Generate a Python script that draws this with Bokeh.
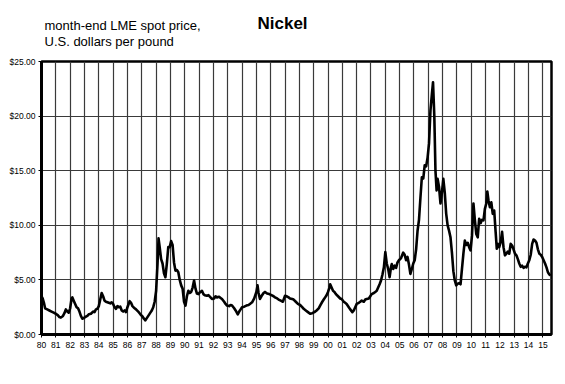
from bokeh.plotting import figure
from bokeh.layouts import column
from bokeh.models import FixedTicker, PrintfTickFormatter, Range1d
from bokeh.core.properties import value
from bokeh.embed import file_html
from bokeh.resources import INLINE

# decimal year of each reading and month-end LME nickel spot price (US$/lb)
t = [1980.00,1980.08,1980.17,1980.25,1980.4,1980.55,1980.7,1980.85,1981.0,1981.15,1981.25,1981.35,1981.5,1981.6,1981.7,1981.8,1981.9,
     1982.0,1982.1,1982.15,1982.25,1982.35,1982.45,1982.55,1982.65,1982.75,1982.85,1982.95,1983.05,1983.2,1983.3,1983.45,1983.6,1983.7,1983.8,1983.9,
     1984.0,1984.1,1984.2,1984.3,1984.4,1984.5,1984.6,1984.7,1984.8,1984.9,1985.0,1985.1,1985.2,1985.3,1985.4,1985.5,1985.6,1985.7,1985.8,1985.9,
     1986.0,1986.15,1986.25,1986.35,1986.5,1986.6,1986.75,1986.9,1987.05,1987.15,1987.25,1987.35,1987.5,1987.6,1987.7,1987.8,1987.9,
     1988.0,1988.1,1988.17,1988.25,1988.35,1988.45,1988.55,1988.65,1988.75,1988.85,1988.95,1989.05,1989.15,1989.25,1989.35,1989.45,1989.55,1989.65,1989.75,1989.85,1989.95,
     1990.05,1990.15,1990.25,1990.35,1990.45,1990.55,1990.65,1990.75,1990.85,1990.95,1991.05,1991.2,1991.3,1991.4,1991.55,1991.65,1991.8,1991.9,
     1992.05,1992.15,1992.25,1992.4,1992.5,1992.6,1992.75,1992.85,1992.95,1993.1,1993.2,1993.3,1993.45,1993.55,1993.7,1993.8,1993.9,
     1994.0,1994.15,1994.3,1994.45,1994.55,1994.7,1994.85,1995.0,1995.08,1995.15,1995.25,1995.35,1995.5,1995.6,1995.75,1995.9,
     1996.05,1996.2,1996.3,1996.45,1996.55,1996.7,1996.85,1997.0,1997.1,1997.25,1997.35,1997.5,1997.6,1997.75,1997.9,
     1998.05,1998.2,1998.3,1998.45,1998.6,1998.75,1998.9,1999.05,1999.2,1999.35,1999.45,1999.6,1999.7,1999.8,1999.9,
     2000.0,2000.1,2000.15,2000.25,2000.35,2000.45,2000.55,2000.7,2000.85,2000.95,2001.1,2001.2,2001.3,2001.45,2001.55,2001.7,2001.8,2001.9,
     2002.0,2002.15,2002.25,2002.35,2002.5,2002.6,2002.7,2002.85,2002.95,2003.05,2003.2,2003.3,2003.4,2003.5,2003.6,2003.7,2003.8,2003.9,
     2004.0,2004.1,2004.2,2004.3,2004.4,2004.45,2004.55,2004.65,2004.75,2004.85,2004.95,2005.1,2005.25,2005.35,2005.45,2005.55,2005.65,2005.75,2005.85,2005.95,
     2006.05,2006.15,2006.25,2006.35,2006.45,2006.55,2006.65,2006.75,2006.85,2006.95,2007.05,2007.15,2007.25,2007.33,2007.42,2007.5,2007.58,2007.65,2007.75,2007.85,2007.95,
     2008.05,2008.15,2008.25,2008.35,2008.45,2008.55,2008.65,2008.75,2008.85,2008.95,2009.05,2009.15,2009.25,2009.35,2009.45,2009.55,2009.65,2009.75,2009.85,2009.95,
     2010.05,2010.15,2010.25,2010.35,2010.45,2010.55,2010.65,2010.75,2010.85,2010.95,2011.05,2011.12,2011.2,2011.3,2011.4,2011.5,2011.6,2011.7,2011.78,2011.85,2011.95,
     2012.05,2012.15,2012.25,2012.35,2012.45,2012.55,2012.65,2012.75,2012.85,2012.95,2013.05,2013.15,2013.25,2013.35,2013.45,2013.55,2013.65,2013.75,2013.85,2013.95,
     2014.05,2014.15,2014.25,2014.35,2014.45,2014.55,2014.65,2014.75,2014.85,2014.95,2015.05,2015.15,2015.25,2015.35,2015.45,2015.55]
price = [3.5,3.3,2.9,2.4,2.3,2.2,2.1,2.0,1.9,1.75,1.6,1.55,1.7,1.95,2.3,2.1,2.0,
         2.4,3.3,3.4,3.1,2.8,2.5,2.4,2.1,1.7,1.45,1.5,1.6,1.7,1.85,1.9,2.1,2.05,2.3,2.35,
         2.6,3.2,3.8,3.5,3.1,3.0,2.95,2.9,2.85,2.95,2.8,2.5,2.35,2.6,2.5,2.55,2.2,2.1,2.2,2.05,
         2.5,3.05,2.9,2.6,2.4,2.3,2.1,1.85,1.65,1.45,1.3,1.5,1.8,2.0,2.2,2.5,3.0,
         4.0,6.5,8.8,8.0,6.9,6.5,5.6,5.25,6.5,8.0,8.0,8.55,8.2,6.6,5.85,5.9,5.7,5.0,4.5,4.2,3.0,
         2.65,3.5,4.0,3.8,3.9,4.3,4.95,4.2,3.75,3.7,3.85,4.0,3.7,3.6,3.55,3.6,3.4,3.25,
         3.3,3.5,3.4,3.45,3.35,3.25,3.0,2.8,2.65,2.6,2.7,2.65,2.4,2.2,1.85,2.1,2.3,
         2.5,2.55,2.65,2.7,2.8,2.95,3.3,3.9,4.5,3.8,3.25,3.5,3.8,3.9,3.75,3.7,
         3.6,3.5,3.4,3.3,3.2,3.1,3.0,3.55,3.5,3.4,3.3,3.25,3.2,3.0,2.8,
         2.7,2.5,2.35,2.2,2.05,1.9,1.95,2.05,2.2,2.4,2.65,3.0,3.2,3.4,3.6,
         3.9,4.3,4.6,4.3,4.0,3.9,3.7,3.5,3.3,3.25,3.0,2.9,2.8,2.5,2.3,2.05,2.2,2.5,
         2.8,2.9,3.0,3.1,3.0,3.2,3.25,3.3,3.5,3.7,3.8,3.9,4.0,4.3,4.6,4.95,5.5,6.15,
         7.55,6.5,6.0,5.25,6.2,6.45,6.0,6.3,6.1,6.6,6.8,7.0,7.5,7.3,6.8,7.1,6.4,5.55,6.0,6.5,
         6.8,7.8,9.5,10.5,12.5,14.4,14.3,15.5,15.4,16.2,17.5,20.5,22.0,23.1,20.0,15.0,13.2,14.25,13.5,12.0,13.0,
         14.25,13.0,11.05,10.0,9.5,8.9,7.5,5.8,4.95,4.5,4.65,4.7,4.6,6.0,7.4,8.6,8.2,8.4,8.0,7.7,
         9.05,12.0,10.5,9.2,8.9,10.6,10.2,10.5,10.45,11.5,12.0,13.1,12.3,11.65,12.1,11.05,11.35,9.4,7.85,8.3,8.0,
         8.45,9.4,8.0,7.25,7.4,7.6,7.4,8.3,8.15,7.8,7.4,7.25,6.9,6.5,6.2,6.3,6.1,6.2,6.15,6.5,
         6.8,7.3,8.3,8.7,8.6,8.4,7.8,7.4,7.3,7.1,6.8,6.5,6.15,5.7,5.5,5.4]

year_ticks = list(range(1980, 2016))
year_labels = {y: "%02d" % (y % 100) for y in year_ticks}
price_ticks = [0, 5, 10, 15, 20, 25]

title_text = "Nickel"
subtitle_lines = ["month-end LME spot price,", "U.S. dollars per pound"]

font = "Liberation Sans"
W = 557

# ---- header strip holding the titles; its frame is aligned with the chart frame
# (page x 41..551), so the x range is set in page pixels, y downwards
head = figure(width=W, height=54, output_backend="svg", toolbar_location=None,
              x_range=Range1d(41, 551), y_range=Range1d(54, 0),
              min_border_left=41, min_border_right=6, min_border_top=0, min_border_bottom=0)
head.axis.visible = False
head.grid.visible = False
head.outline_line_color = None
head.background_fill_color = "white"
head.border_fill_color = "white"
head.text(x=[44, 44], y=[25, 41], text=subtitle_lines, text_font=value(font),
          text_font_size="13px", text_baseline="alphabetic", text_align="left", text_color="black")
head.text(x=[257], y=[23], text=[title_text], text_font=value(font), text_font_style="bold",
          text_font_size="17px", text_baseline="alphabetic", text_align="left", text_color="black")

# ---- main chart
p = figure(width=W, height=314, output_backend="svg", toolbar_location=None,
           x_range=Range1d(1980, 2015.6), y_range=Range1d(0, 25),
           min_border_left=41, min_border_right=6, min_border_top=7, min_border_bottom=34)
p.background_fill_color = "white"
p.border_fill_color = "white"
p.outline_line_color = "black"
p.outline_line_width = 2.5

p.line(t, price, line_color="black", line_width=2.6, line_join="round")

p.xaxis.ticker = FixedTicker(ticks=year_ticks)
p.xaxis.major_label_overrides = year_labels
p.yaxis.ticker = FixedTicker(ticks=price_ticks)
p.yaxis.formatter = PrintfTickFormatter(format="$%.2f")
for ax in (p.xaxis[0], p.yaxis[0]):
    ax.axis_line_width = 3
    ax.axis_line_color = "black"
    ax.major_tick_in = 0
    ax.major_tick_out = 3
    ax.major_tick_line_color = "black"
    ax.minor_tick_line_color = None
    ax.major_label_text_font = font
    ax.major_label_text_font_size = "8.5px"
    ax.major_label_text_color = "black"
p.xaxis.major_label_standoff = 4
p.yaxis.major_label_standoff = 3

p.xgrid.grid_line_color = "#3a3a3a"
p.ygrid.grid_line_color = "#3a3a3a"
p.xgrid.grid_line_width = 1.2
p.ygrid.grid_line_width = 1.2

layout = column(head, p, spacing=0)
open("out.html", "w").write(file_html(layout, INLINE))
